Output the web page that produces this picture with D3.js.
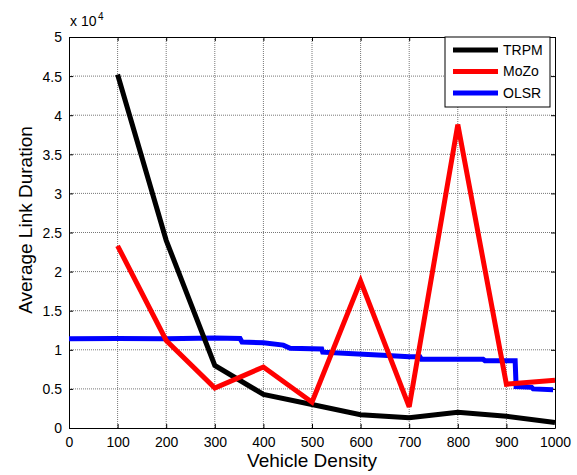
<!DOCTYPE html>
<html lang="en">
<head>
    <meta charset="UTF-8">
    <title>Average Link Duration</title>
    <script src="https://d3js.org/d3.v7.min.js"></script>
    <style>
        body { margin: 0; background: #fff; }
        text { font-family: "Liberation Sans", Arial, sans-serif; fill: #000; }
    </style>
</head>
<body>
    <div id="plot"></div>
    <script>
        "use strict";

        // data (y values in units of 10^4)
        let densities = [100, 200, 300, 400, 500, 600, 700, 800, 900, 1000];
        let trpm = [4.52, 2.40, 0.80, 0.43, 0.30, 0.17, 0.13, 0.20, 0.15, 0.07];
        let mozo = [2.33, 1.12, 0.51, 0.78, 0.33, 1.88, 0.27, 3.88, 0.56, 0.61];

        let olsrX = [0, 100, 200, 300, 352, 356, 400, 441, 455, 520, 522, 585, 646, 700, 722, 725, 852, 856, 918, 920, 952, 955, 996];
        let olsrY = [1.14, 1.145, 1.14, 1.15, 1.145, 1.10, 1.09, 1.06, 1.02, 1.01, 0.97, 0.95, 0.93, 0.91, 0.91, 0.88, 0.88, 0.86, 0.86, 0.53, 0.52, 0.50, 0.49];

        let xTicks = [0, 100, 200, 300, 400, 500, 600, 700, 800, 900, 1000];
        let yTicks = [0, 0.5, 1, 1.5, 2, 2.5, 3, 3.5, 4, 4.5, 5];

        let seriesNames = ['TRPM', 'MoZo', 'OLSR'];
        let seriesColours = ['#000000', '#ff0000', '#0000ff'];

        function translate(x, y){
            return 'translate(' + x + ', ' + y + ')';
        }

        let svgWidth = 577;
        let svgHeight = 475;
        let margin = {top: 37, right: 22, bottom: 47, left: 69};
        let width = svgWidth - margin.left - margin.right;
        let height = svgHeight - margin.top - margin.bottom;

        let x = d3.scaleLinear().domain([0, 1000]).range([0, width]);
        let y = d3.scaleLinear().domain([0, 5]).range([height, 0]);

        let svg = d3.select('#plot')
                    .append('svg')
                    .attr('width', svgWidth)
                    .attr('height', svgHeight);

        let g = svg.append('g').attr('transform', translate(margin.left, margin.top));

        // dotted grid
        g.append('g')
            .selectAll('line')
            .data(xTicks.slice(1, -1))
            .enter()
            .append('line')
            .attr('x1', d => x(d)).attr('x2', d => x(d))
            .attr('y1', 0).attr('y2', height)
            .attr('stroke', '#777').attr('stroke-width', 1)
            .attr('stroke-dasharray', '1,1');
        g.append('g')
            .selectAll('line')
            .data(yTicks.slice(1, -1))
            .enter()
            .append('line')
            .attr('y1', d => y(d)).attr('y2', d => y(d))
            .attr('x1', 0).attr('x2', width)
            .attr('stroke', '#777').attr('stroke-width', 1)
            .attr('stroke-dasharray', '1,1');

        // axes with inward ticks (MATLAB style box)
        let xAxis = d3.axisBottom(x).tickValues(xTicks).tickSizeInner(-4).tickSizeOuter(0).tickPadding(9)
                        .tickFormat(d => d);
        let yAxis = d3.axisLeft(y).tickValues(yTicks).tickSizeInner(-4).tickSizeOuter(0).tickPadding(7)
                        .tickFormat(d => d);

        let gx = g.append('g').attr('transform', translate(0, height)).call(xAxis);
        let gy = g.append('g').call(yAxis);
        g.append('g').call(d3.axisTop(x).tickValues(xTicks).tickSizeInner(-4).tickSizeOuter(0).tickFormat(''));
        g.append('g').attr('transform', translate(width, 0))
            .call(d3.axisRight(y).tickValues(yTicks).tickSizeInner(-4).tickSizeOuter(0).tickFormat(''));

        svg.selectAll('.domain').attr('stroke', '#000').attr('stroke-width', 1);
        svg.selectAll('.tick line').attr('stroke', '#000');
        [gx, gy].forEach(a => a.selectAll('text')
            .style('font-family', '"Liberation Sans", Arial, sans-serif')
            .style('font-size', '14px')
            .attr('fill', '#000'));
        gy.selectAll('text').attr('dy', '0.35em');

        // lines
        let line = d3.line().x(d => x(d[0])).y(d => y(d[1]));

        let trpmPts = densities.map((d, i) => [d, trpm[i]]);
        let mozoPts = densities.map((d, i) => [d, mozo[i]]);
        let olsrPts = olsrX.map((d, i) => [d, olsrY[i]]);

        let plotted = [trpmPts, mozoPts, olsrPts];
        let drawOrder = [2, 0, 1];
        drawOrder.forEach(i => {
            g.append('path')
                .datum(plotted[i])
                .attr('d', line)
                .attr('fill', 'none')
                .attr('stroke', seriesColours[i])
                .attr('stroke-width', 5)
                .attr('stroke-linejoin', 'miter')
                .attr('stroke-miterlimit', 3);
        });

        // exponent label
        g.append('text')
            .attr('x', 1).attr('y', -11)
            .style('font-size', '14px')
            .text('x 10');
        g.append('text')
            .attr('x', 29).attr('y', -17)
            .style('font-size', '10px')
            .text('4');

        // legend
        let legend = g.append('g').attr('transform', translate(x(0) + width - 110, 0));
        legend.append('rect')
            .attr('x', 0).attr('y', 0)
            .attr('width', 105).attr('height', 70)
            .attr('fill', '#fff').attr('stroke', '#000').attr('stroke-width', 1);
        seriesNames.forEach((name, i) => {
            let ly = 13 + i * 21.5;
            legend.append('line')
                .attr('x1', 8).attr('x2', 53)
                .attr('y1', ly).attr('y2', ly)
                .attr('stroke', seriesColours[i]).attr('stroke-width', 5);
            legend.append('text')
                .attr('x', 58).attr('y', ly)
                .attr('dy', '0.35em')
                .style('font-size', '14px')
                .text(name);
        });

        // axis titles
        svg.append('text')
            .attr('x', margin.left + width / 2).attr('y', 467)
            .attr('text-anchor', 'middle')
            .style('font-size', '19px')
            .text('Vehicle Density');
        svg.append('text')
            .attr('transform', translate(32, 220) + ' rotate(-90)')
            .attr('text-anchor', 'middle')
            .style('font-size', '19px')
            .text('Average Link Duration');
    </script>
</body>
</html>
